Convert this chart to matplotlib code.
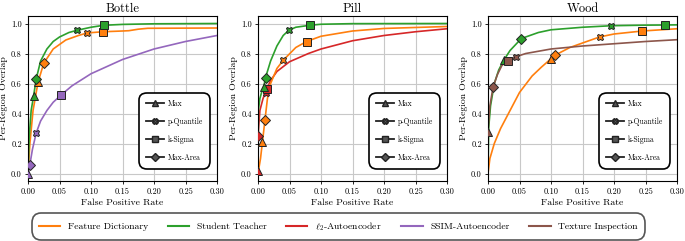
import matplotlib
matplotlib.use("Agg")
import matplotlib.pyplot as plt
from matplotlib.lines import Line2D

plt.rcParams['font.family'] = ['cmr10', 'DejaVu Serif']
plt.rcParams['mathtext.fontset'] = 'cm'
plt.rcParams['axes.formatter.use_mathtext'] = True

C_FD = '#ff7f0e'
C_ST = '#2ca02c'
C_L2 = '#d62728'
C_SSIM = '#9467bd'
C_TI = '#8c564b'

titles = ['Bottle', 'Pill', 'Wood']
method_names = ['Feature Dictionary', 'Student Teacher', r'$\ell_2$-Autoencoder', 'SSIM-Autoencoder', 'Texture Inspection']
threshold_names = ['Max', 'p-Quantile', 'k-Sigma', 'Max-Area']
x_ticks = [0.0, 0.05, 0.10, 0.15, 0.20, 0.25, 0.30]
y_ticks = [0.0, 0.2, 0.4, 0.6, 0.8, 1.0]

# ---------------- Bottle ----------------
bottle_st_x = [0, 0.002, 0.005, 0.009, 0.013, 0.02, 0.03, 0.04, 0.05, 0.065, 0.078, 0.1, 0.12, 0.15, 0.2, 0.3]
bottle_st_y = [0, 0.25, 0.42, 0.52, 0.63, 0.75, 0.83, 0.88, 0.91, 0.94, 0.955, 0.975, 0.988, 0.994, 0.998, 1.0]
bottle_fd_x = [0, 0.003, 0.008, 0.016, 0.025, 0.04, 0.06, 0.08, 0.094, 0.119, 0.15, 0.16, 0.175, 0.19, 0.3]
bottle_fd_y = [0, 0.2, 0.42, 0.61, 0.735, 0.83, 0.89, 0.92, 0.937, 0.945, 0.95, 0.952, 0.962, 0.968, 0.97]
bottle_ssim_x = [0, 0.003, 0.007, 0.013, 0.02, 0.03, 0.04, 0.053, 0.07, 0.1, 0.15, 0.2, 0.25, 0.3]
bottle_ssim_y = [0, 0.06, 0.16, 0.27, 0.35, 0.42, 0.475, 0.525, 0.585, 0.665, 0.76, 0.83, 0.88, 0.92]
# marker points: Max, p-Quantile, k-Sigma, Max-Area
bottle_st_mx = [0.009, 0.078, 0.12, 0.013]
bottle_st_my = [0.52, 0.955, 0.988, 0.63]
bottle_fd_mx = [0.016, 0.094, 0.119, 0.025]
bottle_fd_my = [0.61, 0.937, 0.945, 0.735]
bottle_ssim_mx = [0.0, 0.013, 0.053, 0.003]
bottle_ssim_my = [0.0, 0.27, 0.525, 0.06]

# ---------------- Pill ----------------
pill_st_x = [0, 0.0005, 0.003, 0.006, 0.009, 0.012, 0.02, 0.03, 0.04, 0.049, 0.06, 0.082, 0.1, 0.15, 0.3]
pill_st_y = [0, 0.42, 0.5, 0.545, 0.575, 0.64, 0.75, 0.85, 0.92, 0.955, 0.975, 0.988, 0.995, 0.999, 1.0]
pill_fd_x = [0, 0.004, 0.007, 0.011, 0.015, 0.02, 0.03, 0.04, 0.06, 0.077, 0.1, 0.15, 0.2, 0.3]
pill_fd_y = [0, 0.1, 0.21, 0.355, 0.5, 0.6, 0.7, 0.755, 0.84, 0.88, 0.915, 0.95, 0.967, 0.98]
pill_l2_x = [0, 0.0, 0.003, 0.008, 0.012, 0.014, 0.02, 0.03, 0.05, 0.08, 0.1, 0.15, 0.2, 0.25, 0.3]
pill_l2_y = [0, 0.25, 0.42, 0.5, 0.54, 0.565, 0.62, 0.68, 0.745, 0.8, 0.83, 0.885, 0.92, 0.945, 0.965]
pill_st_mx = [0.009, 0.049, 0.082, 0.012]
pill_st_my = [0.575, 0.955, 0.988, 0.64]
pill_fd_mx = [0.007, 0.04, 0.077, 0.011]
pill_fd_my = [0.21, 0.755, 0.88, 0.355]
pill_l2_mx = [0.0, 0.012, 0.014, 0.0]
pill_l2_my = [0.02, 0.54, 0.565, 0.25]

# ---------------- Wood ----------------
wood_st_x = [0, 0.001, 0.004, 0.01, 0.017, 0.025, 0.035, 0.053, 0.08, 0.1, 0.15, 0.195, 0.25, 0.281, 0.3]
wood_st_y = [0, 0.3, 0.45, 0.6, 0.69, 0.755, 0.82, 0.9, 0.94, 0.958, 0.975, 0.985, 0.989, 0.99, 0.991]
wood_ti_x = [0, 0.0, 0.003, 0.008, 0.015, 0.022, 0.031, 0.044, 0.06, 0.1, 0.15, 0.2, 0.25, 0.3]
wood_ti_y = [0, 0.28, 0.45, 0.575, 0.66, 0.72, 0.75, 0.778, 0.8, 0.83, 0.85, 0.865, 0.88, 0.892]
wood_fd_x = [0, 0.003, 0.01, 0.02, 0.035, 0.05, 0.07, 0.085, 0.1, 0.107, 0.13, 0.15, 0.177, 0.2, 0.245, 0.3]
wood_fd_y = [0, 0.1, 0.2, 0.3, 0.42, 0.54, 0.65, 0.71, 0.765, 0.79, 0.84, 0.87, 0.91, 0.93, 0.95, 0.965]
wood_st_mx = [0.025, 0.195, 0.281, 0.053]
wood_st_my = [0.755, 0.985, 0.99, 0.9]
wood_ti_mx = [0.0, 0.044, 0.031, 0.008]
wood_ti_my = [0.28, 0.778, 0.75, 0.575]
wood_fd_mx = [0.1, 0.177, 0.245, 0.107]
wood_fd_my = [0.765, 0.91, 0.95, 0.79]

markers = ['^', 'X', 's', 'D']

panels = [
    [(bottle_fd_x, bottle_fd_y, bottle_fd_mx, bottle_fd_my, C_FD),
     (bottle_ssim_x, bottle_ssim_y, bottle_ssim_mx, bottle_ssim_my, C_SSIM),
     (bottle_st_x, bottle_st_y, bottle_st_mx, bottle_st_my, C_ST)],
    [(pill_l2_x, pill_l2_y, pill_l2_mx, pill_l2_my, C_L2),
     (pill_fd_x, pill_fd_y, pill_fd_mx, pill_fd_my, C_FD),
     (pill_st_x, pill_st_y, pill_st_mx, pill_st_my, C_ST)],
    [(wood_fd_x, wood_fd_y, wood_fd_mx, wood_fd_my, C_FD),
     (wood_st_x, wood_st_y, wood_st_mx, wood_st_my, C_ST),
     (wood_ti_x, wood_ti_y, wood_ti_mx, wood_ti_my, C_TI)],
]

fig = plt.figure(figsize=(6.85, 2.41), dpi=100)
lefts = [28 / 685, 258 / 685, 488 / 685]
w = 189 / 685
bottom = 1 - 181 / 241
h = 165 / 241

for i, (title, series) in enumerate(zip(titles, panels)):
    ax = fig.add_axes([lefts[i], bottom, w, h])
    ax.set_axisbelow(True)
    ax.grid(True, color='#c8c8c8', linewidth=0.8)
    for (xs, ys, mx, my, c) in series:
        ax.plot(xs, ys, color=c, linewidth=1.2, zorder=2)
        for m, px, py in zip(markers, mx, my):
            ax.plot([px], [py], marker=m, color=c, markeredgecolor='#222222',
                    markeredgewidth=0.7, markersize=5.5 if m != 'X' else 5.0,
                    linestyle='none', zorder=3)
    ax.set_xlim(0, 0.3)
    ax.set_ylim(-0.05, 1.05)
    ax.set_xticks(x_ticks)
    ax.set_yticks(y_ticks)
    ax.set_xticklabels(['%.2f' % v for v in x_ticks])
    ax.set_yticklabels(['%.1f' % v for v in y_ticks])
    ax.tick_params(labelsize=6, length=2.5, width=0.6, pad=2)
    ax.set_title(title, fontsize=9, pad=3)
    ax.set_xlabel('False Positive Rate', fontsize=7, labelpad=2)
    ax.set_ylabel('Per-Region Overlap', fontsize=7, labelpad=2)
    for sp in ax.spines.values():
        sp.set_linewidth(0.8)
    handles = [Line2D([0], [0], color='#222222', linewidth=1.3, marker=m,
                      markerfacecolor='#555555', markeredgecolor='#222222',
                      markersize=4) for m in markers]
    leg = ax.legend(handles, threshold_names, loc='lower right', fontsize=5.5,
                    labelspacing=1.25, handlelength=2.4, handletextpad=0.5,
                    borderpad=0.9, bbox_to_anchor=(0.985, 0.05), fancybox=True,
                    framealpha=1)
    leg.get_frame().set_edgecolor('black')
    leg.get_frame().set_linewidth(1.2)
    leg.get_frame().set_boxstyle('round,pad=0,rounding_size=1.0')

fig_handles = [Line2D([0], [0], color=c, linewidth=1.5) for c in [C_FD, C_ST, C_L2, C_SSIM, C_TI]]
fl = fig.legend(fig_handles, method_names, loc='center', ncol=5, fontsize=7,
                bbox_to_anchor=(0.494, 0.06), handlelength=2.2, columnspacing=2.0,
                fancybox=True, framealpha=1, borderpad=0.75)
fl.get_frame().set_edgecolor('#555555')
fl.get_frame().set_linewidth(1.2)
fl.get_frame().set_boxstyle('round,pad=0,rounding_size=1.0')

fig.savefig('out.png', dpi=100)
